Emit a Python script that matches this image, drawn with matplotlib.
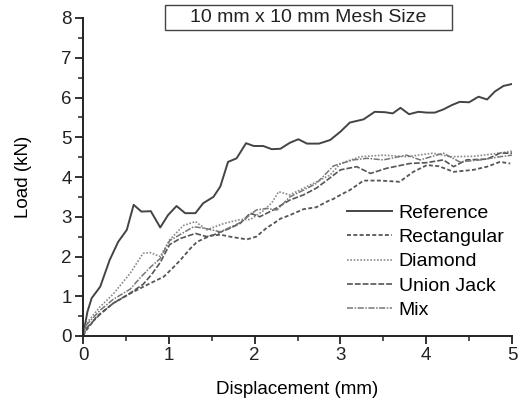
import matplotlib
matplotlib.use("Agg")
import matplotlib.pyplot as plt
from matplotlib.patches import Rectangle
from matplotlib.ticker import MultipleLocator

plt.rcParams["font.family"] = ["Liberation Sans", "DejaVu Sans"]

# Load-displacement curves, 10 mm x 10 mm mesh
ref_x = [0, 0.05, 0.10, 0.20, 0.31, 0.41, 0.51, 0.59, 0.68, 0.79, 0.90, 0.99, 1.09, 1.19,
         1.31, 1.40, 1.52, 1.60, 1.69, 1.79, 1.90, 1.99, 2.10, 2.20, 2.30, 2.41, 2.51, 2.61,
         2.75, 2.88, 3.00, 3.11, 3.27, 3.40, 3.52, 3.61, 3.70, 3.80, 3.91, 4.01, 4.10, 4.20,
         4.30, 4.39, 4.50, 4.61, 4.71, 4.80, 4.90, 5.00]
ref_y = [0, 0.60, 0.95, 1.24, 1.91, 2.37, 2.67, 3.30, 3.13, 3.14, 2.73, 3.04, 3.27, 3.09,
         3.09, 3.34, 3.50, 3.76, 4.38, 4.47, 4.85, 4.78, 4.78, 4.70, 4.71, 4.86, 4.95, 4.84,
         4.84, 4.93, 5.14, 5.37, 5.45, 5.64, 5.63, 5.60, 5.74, 5.58, 5.64, 5.62, 5.62, 5.70,
         5.81, 5.89, 5.88, 6.02, 5.95, 6.15, 6.29, 6.34]

rect_x = [0, 0.04, 0.16, 0.35, 0.55, 0.74, 0.94, 1.05, 1.13, 1.25, 1.33, 1.48, 1.60, 1.71,
          1.91, 2.02, 2.14, 2.22, 2.30, 2.41, 2.57, 2.72, 2.86, 2.92, 3.00, 3.11, 3.27, 3.46,
          3.69, 3.85, 4.01, 4.15, 4.32, 4.55, 4.71, 4.86, 4.98]
rect_y = [0, 0.15, 0.49, 0.82, 1.07, 1.28, 1.49, 1.72, 1.90, 2.20, 2.37, 2.52, 2.55, 2.50,
          2.43, 2.50, 2.72, 2.83, 2.95, 3.04, 3.19, 3.24, 3.40, 3.45, 3.55, 3.67, 3.91, 3.91,
          3.88, 4.13, 4.30, 4.27, 4.13, 4.18, 4.26, 4.38, 4.34]

diam_x = [0, 0.04, 0.20, 0.35, 0.55, 0.70, 0.78, 0.90, 1.01, 1.17, 1.31, 1.44, 1.64, 1.83,
          1.95, 2.10, 2.20, 2.28, 2.41, 2.60, 2.76, 2.88, 3.00, 3.23, 3.50, 3.77, 4.08, 4.28,
          4.55, 4.78, 5.00]
diam_y = [0, 0.32, 0.74, 1.05, 1.58, 2.08, 2.10, 2.00, 2.42, 2.78, 2.88, 2.67, 2.83, 2.93,
          2.93, 3.15, 3.35, 3.63, 3.55, 3.75, 3.92, 4.05, 4.34, 4.51, 4.55, 4.51, 4.60, 4.51,
          4.52, 4.58, 4.65]

uj_x = [0, 0.04, 0.20, 0.35, 0.55, 0.70, 0.80, 0.90, 1.01, 1.13, 1.31, 1.44, 1.52, 1.70,
        1.83, 1.95, 2.06, 2.20, 2.41, 2.57, 2.72, 2.88, 3.00, 3.19, 3.35, 3.54, 3.81, 4.00,
        4.20, 4.32, 4.47, 4.71, 4.86, 5.00]
uj_y = [0, 0.20, 0.55, 0.82, 1.08, 1.30, 1.55, 1.85, 2.30, 2.45, 2.58, 2.50, 2.54, 2.70,
        2.83, 3.09, 3.00, 3.15, 3.42, 3.55, 3.72, 3.98, 4.18, 4.26, 4.09, 4.22, 4.34, 4.36,
        4.43, 4.26, 4.43, 4.45, 4.60, 4.60]

mix_x = [0, 0.04, 0.20, 0.35, 0.55, 0.66, 0.78, 0.90, 1.01, 1.13, 1.29, 1.44, 1.60, 1.83,
         2.02, 2.14, 2.26, 2.41, 2.57, 2.72, 2.92, 3.15, 3.31, 3.50, 3.77, 3.93, 4.20, 4.39,
         4.63, 4.86, 5.00]
mix_y = [0, 0.28, 0.65, 0.92, 1.18, 1.45, 1.72, 1.95, 2.40, 2.55, 2.75, 2.70, 2.62, 2.85,
         3.17, 3.21, 3.17, 3.50, 3.67, 3.84, 4.28, 4.43, 4.47, 4.43, 4.55, 4.43, 4.60, 4.38,
         4.43, 4.51, 4.55]

fig = plt.figure(figsize=(5.19, 4.0), dpi=100)
ax = fig.add_axes([0.160, 0.16, 0.8265, 0.795])

ax.plot(ref_x, ref_y, color="#444444", lw=1.4, label="Reference")
ax.plot(rect_x, rect_y, color="#555555", lw=1.3, ls=(0, (2.2, 1.3)), label="Rectangular")
ax.plot(diam_x, diam_y, color="#8a8a8a", lw=1.2, ls=(0, (1, 1)), label="Diamond")
ax.plot(uj_x, uj_y, color="#555555", lw=1.2, ls=(0, (3.5, 1.2)), label="Union Jack")
ax.plot(mix_x, mix_y, color="#777777", lw=1.1, ls=(0, (4, 1, 1, 1)), label="Mix")

ax.set_xlim(0, 5)
ax.set_ylim(0, 8)
ax.xaxis.set_major_locator(MultipleLocator(1))
ax.xaxis.set_minor_locator(MultipleLocator(0.5))
ax.yaxis.set_major_locator(MultipleLocator(1))
ax.yaxis.set_minor_locator(MultipleLocator(0.5))
for s in ("top", "right"):
    ax.spines[s].set_visible(False)
for s in ("left", "bottom"):
    ax.spines[s].set_linewidth(1.4)
    ax.spines[s].set_color("#222222")
ax.tick_params(which="major", direction="out", length=6, width=1.3, labelsize=13.5,
               colors="#222222", pad=2)
ax.tick_params(which="minor", direction="out", length=3.5, width=1.1, colors="#222222")

ax.set_xlabel("Displacement (mm)", fontsize=13.5, labelpad=12)
ax.set_ylabel("Load (kN)", fontsize=13.5, labelpad=21)

leg = ax.legend(loc="upper left", bbox_to_anchor=(347 / 519, 1 - 204 / 400),
                bbox_transform=fig.transFigure, frameon=False, fontsize=14,
                handlelength=2.3, handletextpad=0.35, labelspacing=0.35,
                borderpad=0, borderaxespad=0)

# boxed title above the curves
fig.patches.append(Rectangle((165 / 519, 1 - 30 / 400), 287 / 519, 25 / 400,
                             transform=fig.transFigure, fill=False,
                             edgecolor="#444444", lw=1.0))
fig.text(308 / 519, 1 - 17.5 / 400, "10 mm x 10 mm Mesh Size", ha="center", va="center",
         fontsize=14, color="#222222")

fig.savefig("out.png", dpi=100)
